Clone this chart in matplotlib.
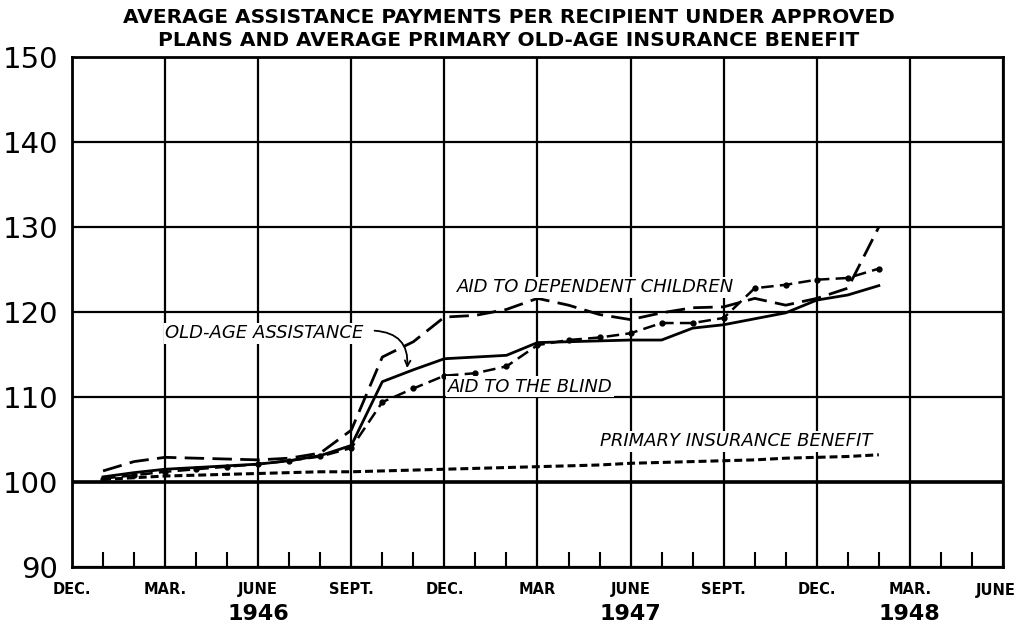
import matplotlib
matplotlib.use("Agg")
import matplotlib.pyplot as plt
from matplotlib.ticker import MultipleLocator
from matplotlib.transforms import blended_transform_factory

# months counted from Dec. 1945 (0) ; data Jan 1946 .. Feb 1948
months = list(range(1, 27))

old_age = [100.6, 101.1, 101.5, 101.7, 101.9, 102.1, 102.5, 103.1, 104.3, 111.8,
           113.2, 114.5, 114.7, 114.9, 116.4, 116.5, 116.6, 116.7, 116.7, 118.1,
           118.5, 119.2, 119.9, 121.4, 122.0, 123.1]
dependent_children = [101.3, 102.4, 102.9, 102.8, 102.7, 102.6, 102.8, 103.4, 106.1, 114.7,
                      116.5, 119.4, 119.6, 120.3, 121.6, 120.8, 119.7, 119.1, 119.9, 120.5,
                      120.6, 121.6, 120.8, 121.6, 122.8, 130.0]
blind = [100.4, 100.8, 101.2, 101.5, 101.8, 102.1, 102.5, 103.0, 104.0, 109.4,
         111.0, 112.5, 112.8, 113.6, 116.1, 116.7, 117.0, 117.5, 118.7, 118.7,
         119.3, 122.8, 123.2, 123.8, 124.0, 125.1]
primary_benefit = [100.3, 100.5, 100.7, 100.8, 100.9, 101.0, 101.1, 101.2, 101.2, 101.3,
                   101.4, 101.5, 101.6, 101.7, 101.8, 101.9, 102.0, 102.2, 102.3, 102.4,
                   102.5, 102.6, 102.8, 102.9, 103.0, 103.2]

quarter_labels = ["DEC.", "MAR.", "JUNE", "SEPT.", "DEC.", "MAR", "JUNE",
                  "SEPT.", "DEC.", "MAR.", "JUNE"]
year_labels = ["1946", "1947", "1948"]
year_pos = [6, 18, 27]

plt.rcParams['font.family'] = ['DejaVu Sans']

fig = plt.figure(figsize=(10.17, 6.29), dpi=100)
ax = fig.add_axes([0.0708, 0.0986, 0.9154, 0.8108])

ax.set_xlim(0, 30)
ax.set_ylim(90, 150)

# grid
ax.set_xticks(range(0, 31, 3))
ax.xaxis.set_minor_locator(MultipleLocator(1))
ax.yaxis.set_major_locator(MultipleLocator(10))
ax.grid(True, which='major', color='black', linewidth=1.6)
ax.axhline(100, color='black', linewidth=2.6)
for s in ax.spines.values():
    s.set_linewidth(2)

ax.plot(months, old_age, color='black', lw=2.0)
ax.plot(months, dependent_children, color='black', lw=2.0, dashes=(7, 3))
ax.plot(months, blind, color='black', lw=1.8, dashes=(5, 2.5),
        marker='o', markersize=3.5)
ax.plot(months, primary_benefit, color='black', lw=2.2, dashes=(2.6, 1.3))

# tick styling -- last label drawn by hand so it stays inside the figure
ax.set_xticklabels(quarter_labels[:-1] + [""], fontsize=10.5, fontweight='bold')
ax.tick_params(axis='x', which='major', length=0, pad=11)
ax.tick_params(axis='x', which='minor', direction='in', length=11, width=1.5,
               top=False)
ax.tick_params(axis='y', which='major', length=0, pad=10, labelsize=21)

tr = blended_transform_factory(ax.transData, ax.transAxes)
ax.text(30.4, -0.031, quarter_labels[-1], transform=tr, ha='right', va='top',
        fontsize=10.5, fontweight='bold')
for lab, pos in zip(year_labels, year_pos):
    ax.text(pos, -0.092, lab, transform=tr, ha='center', va='center',
            fontsize=16, fontweight='bold')

# series labels
lab_kw = dict(fontsize=13, fontstyle='italic', ha='left', va='center',
              bbox=dict(facecolor='white', edgecolor='none', pad=1))
ax.text(12.4, 122.9, "AID TO DEPENDENT CHILDREN", **lab_kw)
ax.text(12.1, 111.2, "AID TO THE BLIND", **lab_kw)
ax.text(17.0, 104.8, "PRIMARY INSURANCE BENEFIT", **lab_kw)
ax.text(3.0, 117.5, "OLD-AGE ASSISTANCE", **lab_kw)
ax.annotate("", xy=(10.8, 113.4), xytext=(9.75, 117.8),
            arrowprops=dict(arrowstyle='->', color='black', lw=1.3,
                            connectionstyle='arc3,rad=-0.5',
                            shrinkA=0, shrinkB=0))

fig.text(0.5, 0.972, "AVERAGE ASSISTANCE PAYMENTS PER RECIPIENT UNDER APPROVED",
         ha='center', va='center', fontsize=14.5, fontweight='bold')
fig.text(0.5, 0.936, "PLANS AND AVERAGE PRIMARY OLD-AGE INSURANCE BENEFIT",
         ha='center', va='center', fontsize=14.5, fontweight='bold')

fig.savefig("out.png", dpi=100)
